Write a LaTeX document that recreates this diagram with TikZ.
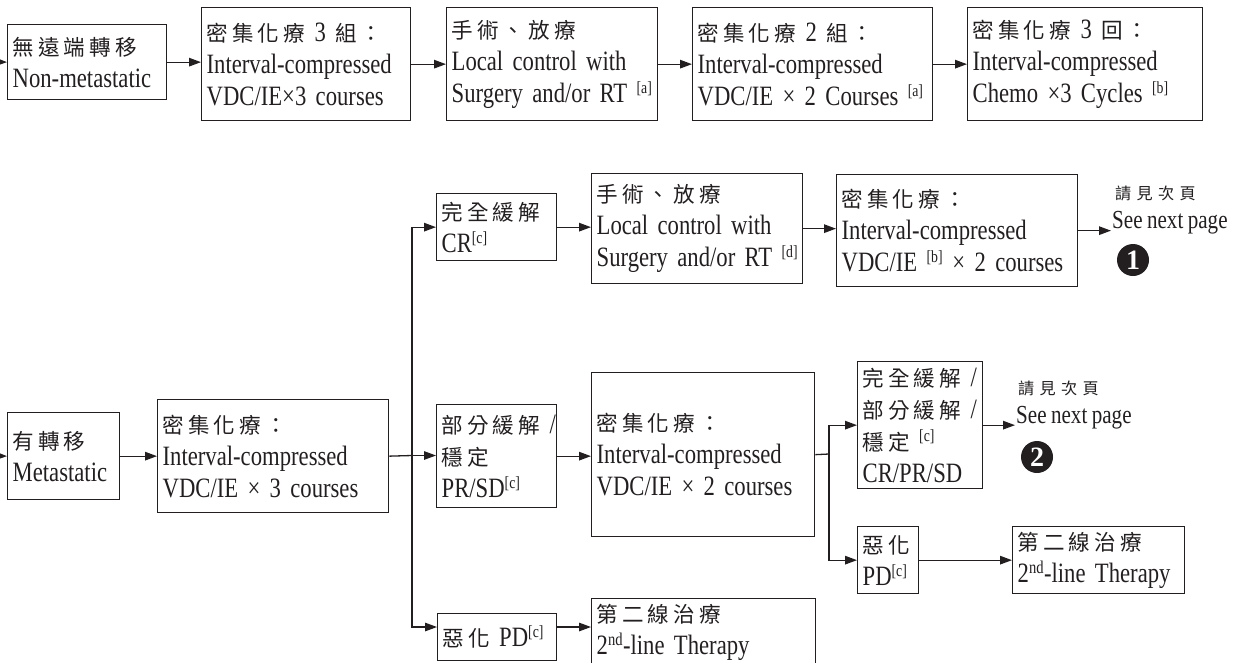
\documentclass[tikz,border=0pt]{standalone}
\usepackage{fontspec}
\setmainfont{Liberation Serif}[FakeStretch=0.81,WordSpace=0.85]
\newfontfamily\cjkfont[Scale=0.77,LetterSpace=19]{Noto Sans CJK TC}
\newfontfamily\cjknote[Scale=0.62,LetterSpace=33]{Noto Sans CJK TC}
\newfontfamily\badgefont{Liberation Serif}
\usetikzlibrary{arrows.meta}
\definecolor{ink}{RGB}{35,31,32}
\newcommand{\zh}[1]{{\cjkfont #1}}
\newcommand{\fn}[1]{\textsuperscript{\fontsize{17}{17}\selectfont[#1]}}
\newcommand{\ordsup}[1]{\textsuperscript{\fontsize{18}{18}\selectfont #1}}

\begin{document}
\begin{tikzpicture}[x=1pt,y=-1pt,
  box/.style={draw=ink, line width=1.3pt, text=ink, align=left,
    inner xsep=5pt, inner ysep=1pt, anchor=north west,
    font=\fontsize{28}{32}\selectfont},
  flow/.style={draw=ink, line width=1.3pt, -{Triangle[length=12pt,width=8.5pt]}},
  link/.style={draw=ink, line width=1.3pt},
  badge/.style={circle, fill=ink, text=white, minimum size=32pt, inner sep=0pt,
    font=\badgefont\fontsize{28}{28}\selectfont\bfseries},
  note/.style={text=ink, inner sep=1pt, anchor=west, font=\fontsize{26}{30}\selectfont},
]
\useasboundingbox (0,0) rectangle (1233,662);

% ---- non-metastatic pathway ----
\node[box, minimum width=159pt, minimum height=75pt, text width=149pt] (nm) at (7,24)
  {\zh{無遠端轉移}\\Non-metastatic};
\node[box, minimum width=209pt, minimum height=113pt, text width=199pt] (nm1) at (201,7)
  {\zh{密集化療} 3 \zh{組：}\\Interval-compressed\\VDC/IE×3 courses};
\node[box, minimum width=211pt, minimum height=113pt, text width=201pt] (nm2) at (446,7)
  {\zh{手術、放療}\\Local control with\\\mbox{Surgery and/or RT~\fn{a}}};
\node[box, minimum width=240pt, minimum height=113pt, text width=230pt] (nm3) at (692,7)
  {\zh{密集化療} 2 \zh{組：}\\Interval-compressed\\VDC/IE × 2 Courses~\fn{a}};
\node[box, minimum width=235pt, minimum height=113pt, text width=225pt] (nm4) at (967,7)
  {\zh{密集化療} 3 \zh{回：}\\Interval-compressed\\Chemo ×3 Cycles~\fn{b}};

\coordinate (nmin) at (-20,61.5);
\draw[flow] (nmin) -- (nm.west);
\draw[flow] (nm.east) -- (nm.east -| nm1.west);
\draw[flow] (nm1.east) -- (nm2.west);
\draw[flow] (nm2.east) -- (nm3.west);
\draw[flow] (nm3.east) -- (nm4.west);

% ---- metastatic pathway ----
\node[box, minimum width=112pt, minimum height=87pt, text width=102pt] (mt) at (7,412)
  {\zh{有轉移}\\Metastatic};
\node[box, minimum width=231pt, minimum height=113pt, text width=221pt] (mt1) at (157,399)
  {\zh{密集化療：}\\Interval-compressed\\VDC/IE × 3 courses};

\node[box, minimum width=120pt, minimum height=67pt, text width=110pt] (cr) at (436,193)
  {\zh{完全緩解}\\CR\fn{c}};
\node[box, minimum width=211pt, minimum height=110pt, text width=201pt] (crlc) at (591,173)
  {\zh{手術、放療}\\Local control with\\\mbox{Surgery and/or RT~\fn{d}}};
\node[box, minimum width=241pt, minimum height=112pt, text width=231pt] (crch) at (836,174)
  {\zh{密集化療：}\\Interval-compressed\\VDC/IE~\fn{b} × 2 courses};
\node[note] (go1zh) at (1114,193) {{\cjknote 請見次頁}};
\node[note] (go1) at (1111,223) {See next page};
\node[badge] (one) at (1133,260) {1};

\node[box, minimum width=120pt, minimum height=103pt, text width=110pt] (pr) at (436,404)
  {\zh{部分緩解}~/\\\zh{穩定}\\PR/SD\fn{c}};
\node[box, minimum width=223pt, minimum height=164pt, text width=213pt] (prch) at (591,372)
  {\zh{密集化療：}\\Interval-compressed\\VDC/IE × 2 courses};
\node[box, minimum width=125pt, minimum height=127pt, text width=115pt] (resp) at (857,361)
  {\zh{完全緩解}~/\\\zh{部分緩解}~/\\\zh{穩定}~\fn{c}\\CR/PR/SD};
\node[note] (go2zh) at (1017,388) {{\cjknote 請見次頁}};
\node[note] (go2) at (1015,418) {See next page};
\node[badge] (two) at (1037,457) {2};
\node[box, minimum width=61pt, minimum height=67pt, text width=51pt] (prpd) at (857,526)
  {\zh{惡化}\\PD\fn{c}};
\node[box, minimum width=172pt, minimum height=67pt, text width=162pt] (prsl) at (1012,526)
  {\zh{第二線治療}\\2\ordsup{nd}-line Therapy};

\node[box, minimum width=119pt, minimum height=47pt, text width=109pt] (pd) at (437,613)
  {\zh{惡化}~PD\fn{c}};
\node[box, minimum width=224pt, minimum height=68pt, text width=214pt] (pdsl) at (591,598)
  {\zh{第二線治療}\\2\ordsup{nd}-line Therapy};

% connectors
\coordinate (mtin) at (-20,455.5);
\coordinate (split) at (412,455.5);
\coordinate (pdrow) at (412,627);
\coordinate (fork) at (829,454);

\draw[flow] (mtin) -- (mt.west);
\draw[flow] (mt.east) -- (mt.east -| mt1.west);
\draw[link] (mt1.east) -- (split);
\draw[flow] (split) |- (cr.west);
\draw[flow] (split) -- (split -| pr.west);
\draw[flow] (split) |- (pdrow -| pd.west);
\draw[flow] (pdrow -| pd.east) -- (pdrow -| pdsl.west);

\draw[flow] (cr.east) -- (cr.east -| crlc.west);
\draw[flow] (crlc.east) -- (crlc.east -| crch.west);
\draw[flow] (crch.east) -- (crch.east -| go1.west);

\draw[flow] (pr.east) -- (pr.east -| prch.west);
\draw[link] (prch.east) -- (fork);
\draw[flow] (fork) |- (resp.west);
\draw[flow] (fork) |- (prpd.west);
\draw[flow] (resp.east) -- (resp.east -| go2.west);
\draw[flow] (prpd.east) -- (prsl.west);
\end{tikzpicture}
\end{document}
